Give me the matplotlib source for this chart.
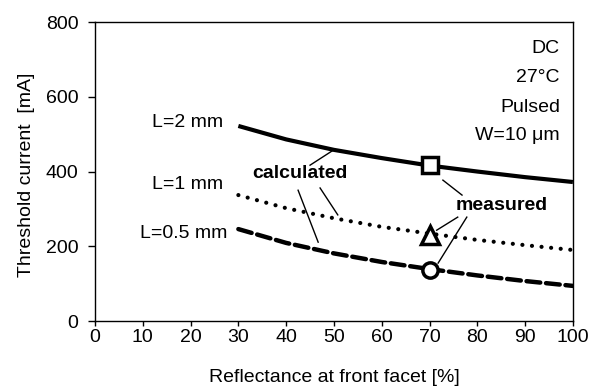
import matplotlib
matplotlib.use("Agg")
import matplotlib.pyplot as plt

plt.rcParams['font.family'] = ['Liberation Sans', 'DejaVu Sans']

reflectance = [30, 40, 50, 60, 70, 80, 90, 100]
calc_L2 = [522, 486, 458, 436, 416, 400, 385, 372]
calc_L1 = [337, 302, 275, 252, 234, 217, 203, 190]
calc_L05 = [246, 209, 181, 158, 139, 122, 107, 94]

meas_R = [70]
meas_L2 = [417]
meas_L1 = [230]
meas_L05 = [136]

FS = 14

fig = plt.figure(figsize=(5.9, 3.87), dpi=100)
ax = fig.add_axes([0.161, 0.1705, 0.81, 0.7725])

ax.plot(reflectance, calc_L2, color='black', lw=3.0, solid_capstyle='butt')
ax.plot(reflectance, calc_L1, color='black', lw=3.0, linestyle=(0, (0.01, 2.3)), dash_capstyle='round')
ax.plot(reflectance, calc_L05, color='black', lw=3.2, linestyle=(0, (3.1, 1.3)), dash_capstyle='round')

ax.plot(meas_R, meas_L2, marker='s', ms=12, mfc='white', mec='black', mew=2.5, ls='none')
ax.plot(meas_R, meas_L1, marker='^', ms=13, mfc='white', mec='black', mew=2.5, ls='none')
ax.plot(meas_R, meas_L05, marker='o', ms=11, mfc='white', mec='black', mew=2.5, ls='none')

ax.set_xlim(0, 100)
ax.set_ylim(0, 800)
ax.set_xticks(range(0, 101, 10))
ax.set_yticks(range(0, 801, 200))
ax.tick_params(axis='x', direction='out', labelsize=FS, length=3.6, width=1, pad=2)
ax.tick_params(axis='y', direction='out', labelsize=FS, length=5, width=1, pad=7)
for s in ax.spines.values():
    s.set_linewidth(1)

ax.set_xlabel('Reflectance at front facet [%]', fontsize=FS, labelpad=17)
ax.set_ylabel('Threshold current  [mA]', fontsize=FS)
ax.yaxis.set_label_coords(-0.125, 0.49)

# curve labels
ax.text(26.8, 532, 'L=2 mm', ha='right', va='center', fontsize=FS)
ax.text(26.8, 365, 'L=1 mm', ha='right', va='center', fontsize=FS)
ax.text(27.6, 235, 'L=0.5 mm', ha='right', va='center', fontsize=FS)

# condition text
for y, t in zip([728, 651, 572, 497], ['DC', '27°C', 'Pulsed', 'W=10 μm']):
    ax.text(97.3, y, t, ha='right', va='center', fontsize=FS)

# calculated annotation
ax.text(42.9, 396, 'calculated', ha='center', va='center', fontsize=FS, fontweight='bold')
ax.plot([45, 49.6], [417, 455], color='black', lw=1)
ax.plot([42.5, 46.7], [350, 211], color='black', lw=1)
ax.plot([47.1, 50.8], [356, 284], color='black', lw=1)

# measured annotation
ax.text(85.2, 310, 'measured', ha='center', va='center', fontsize=FS, fontweight='bold')
ax.plot([72.8, 76.8], [377, 337], color='black', lw=1)
ax.plot([71.5, 75.9], [243, 278], color='black', lw=1)
ax.plot([71.8, 77.8], [155, 278], color='black', lw=1)

fig.savefig('out.png', dpi=100)
